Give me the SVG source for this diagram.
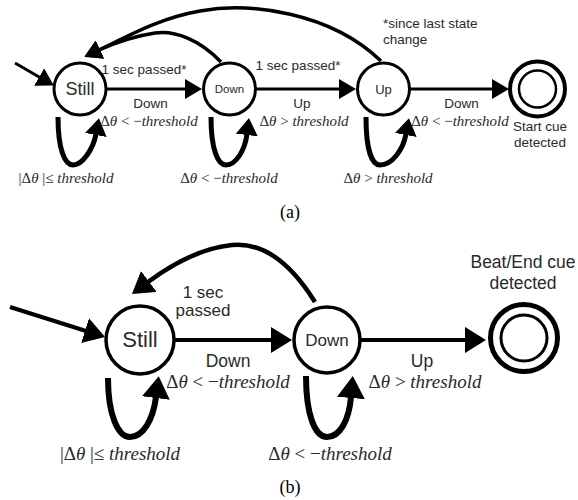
<svg xmlns="http://www.w3.org/2000/svg" width="578" height="500" viewBox="0 0 578 500">
<style>
.bg{fill:#fff}
.st{fill:#fff;stroke:#000}
.ln{fill:none;stroke:#000}
.s{font-family:"Liberation Sans",Arial,sans-serif;fill:#2a2a2a;text-anchor:middle}
.l{text-anchor:start}
.m{font-family:"Liberation Serif","Times New Roman",serif;fill:#2a2a2a;text-anchor:middle}
.i{font-style:italic}
.cap{font-family:"Liberation Serif","Times New Roman",serif;fill:#000;text-anchor:middle;font-size:18px}
</style>
<defs>
<marker id="ha" markerUnits="userSpaceOnUse" markerWidth="17" markerHeight="20" refX="1" refY="10" orient="auto"><path d="M0,0 L17,10 L0,20 z" fill="#000"/></marker>
<marker id="hla" markerUnits="userSpaceOnUse" markerWidth="17" markerHeight="22" refX="1" refY="11" orient="auto"><path d="M0,0 L17,11 L0,22 z" fill="#000"/></marker>
<marker id="hb" markerUnits="userSpaceOnUse" markerWidth="21" markerHeight="26" refX="1" refY="13" orient="auto"><path d="M0,0 L21,13 L0,26 z" fill="#000"/></marker>
<marker id="hlb" markerUnits="userSpaceOnUse" markerWidth="22" markerHeight="28" refX="1" refY="14" orient="auto"><path d="M0,0 L22,14 L0,28 z" fill="#000"/></marker>
</defs>
<rect class="bg" x="0" y="0" width="578" height="500"/>

<g id="connectors">
<path class="ln" stroke-width="3" d="M15,63 L40,77.5" marker-end="url(#ha)"/>
<path class="ln" stroke-width="3" d="M106,89 L186,89" marker-end="url(#ha)"/>
<path class="ln" stroke-width="3" d="M256,89 L340,89" marker-end="url(#ha)"/>
<path class="ln" stroke-width="3" d="M410,89 L493,89" marker-end="url(#ha)"/>
<path class="ln" stroke-width="3.5" d="M381,61 C330,12 250,2 200,11 C160,18 130,35 99,50" marker-end="url(#ha)"/>
<path class="ln" stroke-width="3.5" d="M221,62 C200,40 175,30 155,33 C135,36 117,42 99,50" marker-end="url(#ha)"/>
<path class="ln" stroke-width="5" d="M58,117 C58,150 65,165 73,165 C82,165 93,150 96,134" marker-end="url(#hla)"/>
<path class="ln" stroke-width="5" d="M211,117 C211,150 218,165 226,165 C236,165 245,150 247,134" marker-end="url(#hla)"/>
<path class="ln" stroke-width="5" d="M366,117 C366,150 372,165 380,165 C392,165 403,150 406,134" marker-end="url(#hla)"/>
<path class="ln" stroke-width="4" d="M10,307 L86,331" marker-end="url(#hb)"/>
<path class="ln" stroke-width="4" d="M174,340 L272,340" marker-end="url(#hb)"/>
<path class="ln" stroke-width="4" d="M360,340 L466,340" marker-end="url(#hb)"/>
<path class="ln" stroke-width="4.5" d="M315,302 C290,262 262,242 232,245 C202,248 175,262 148,282" marker-end="url(#hb)"/>
<path class="ln" stroke-width="6" d="M108,378 C108,415 118,437 130,437 C143,437 153,420 156,397" marker-end="url(#hlb)"/>
<path class="ln" stroke-width="6" d="M306,376 C306,415 315,437 327,437 C340,437 349,420 351,397" marker-end="url(#hlb)"/>
</g>

<g id="still-a"><circle class="st" stroke-width="3" cx="80" cy="89" r="26"/><text class="s" x="80" y="95" font-size="18">Still</text></g>
<g id="down-a"><circle class="st" stroke-width="3" cx="229.5" cy="89" r="26"/><text class="s" x="229.5" y="93" font-size="11.5">Down</text></g>
<g id="up-a"><circle class="st" stroke-width="3" cx="383.5" cy="89" r="26"/><text class="s" x="383.5" y="94" font-size="13">Up</text></g>
<g id="final-a"><circle class="st" stroke-width="4" cx="537.5" cy="89" r="27.5"/><circle class="ln" stroke-width="2.5" cx="537.5" cy="89" r="18.5"/></g>

<g id="labels-a">
<text class="s" x="144" y="74" font-size="13.5">1 sec passed*</text>
<text class="s" x="298" y="70" font-size="13.5">1 sec passed*</text>
<text class="s l" x="383" y="28" font-size="13.5">*since last state</text>
<text class="s l" x="383" y="44" font-size="13.5">change</text>
<text class="s" x="150.5" y="108" font-size="13.5">Down</text>
<text class="m" x="149" y="126" font-size="15">Δ<tspan class="i">θ</tspan> &lt; −<tspan class="i">threshold</tspan></text>
<text class="s" x="302" y="108" font-size="13.5">Up</text>
<text class="m" x="304" y="126" font-size="15">Δ<tspan class="i">θ</tspan> &gt; <tspan class="i">threshold</tspan></text>
<text class="s" x="461.5" y="108" font-size="13.5">Down</text>
<text class="m" x="460" y="126" font-size="15">Δ<tspan class="i">θ</tspan> &lt; −<tspan class="i">threshold</tspan></text>
<text class="s" x="540" y="131" font-size="13.5">Start cue</text>
<text class="s" x="540" y="147" font-size="13.5">detected</text>
<text class="m" x="66" y="183" font-size="15">|Δ<tspan class="i">θ</tspan> |≤ <tspan class="i">threshold</tspan></text>
<text class="m" x="229" y="183" font-size="15">Δ<tspan class="i">θ</tspan> &lt; −<tspan class="i">threshold</tspan></text>
<text class="m" x="388" y="183" font-size="15">Δ<tspan class="i">θ</tspan> &gt; <tspan class="i">threshold</tspan></text>
<text class="cap" x="290" y="218">(a)</text>
</g>

<g id="still-b"><circle class="st" stroke-width="3.5" cx="140" cy="340" r="34"/><text class="s" x="140" y="347" font-size="22">Still</text></g>
<g id="down-b"><circle class="st" stroke-width="3.5" cx="327" cy="340" r="33"/><text class="s" x="327" y="346" font-size="17">Down</text></g>
<g id="final-b"><circle class="st" stroke-width="5" cx="524" cy="338" r="33.5"/><circle class="ln" stroke-width="3" cx="524" cy="338" r="23"/></g>

<g id="labels-b">
<text class="s" x="203" y="298" font-size="17">1 sec</text>
<text class="s" x="203" y="316" font-size="17">passed</text>
<text class="s" x="228" y="367" font-size="17.5">Down</text>
<text class="m" x="228" y="388" font-size="19">Δ<tspan class="i">θ</tspan> &lt; −<tspan class="i">threshold</tspan></text>
<text class="s" x="422" y="367" font-size="17.5">Up</text>
<text class="m" x="425" y="388" font-size="19">Δ<tspan class="i">θ</tspan> &gt; <tspan class="i">threshold</tspan></text>
<text class="s" x="523" y="268" font-size="17.5">Beat/End cue</text>
<text class="s" x="523" y="289" font-size="17.5">detected</text>
<text class="m" x="120" y="460" font-size="19">|Δ<tspan class="i">θ</tspan> |≤ <tspan class="i">threshold</tspan></text>
<text class="m" x="330" y="460" font-size="19">Δ<tspan class="i">θ</tspan> &lt; −<tspan class="i">threshold</tspan></text>
<text class="cap" x="290" y="493">(b)</text>
</g>
</svg>
